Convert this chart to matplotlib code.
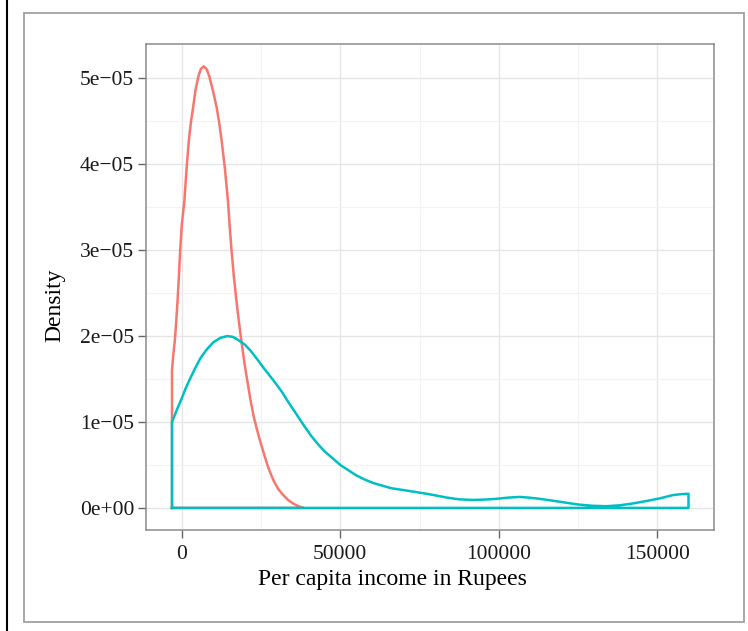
import numpy as np
import matplotlib.pyplot as plt
from matplotlib.lines import Line2D
from matplotlib.patches import Rectangle
from matplotlib.ticker import FuncFormatter, MultipleLocator

# density estimates per group (income in Rupees, density in units of 1e-5)
red_x = [-3100, -3100, -2700, -2200, -1800, -1350, -950, -530, 0, 800,
         1500, 2200, 2900, 3560, 4300, 5200, 6000, 6920, 7800, 8700,
         9800, 11000, 11800, 12580, 13600, 14560, 15100, 15700, 16400,
         17200, 18000, 18770, 19700, 20660, 21700, 22700, 23800, 24850,
         26000, 27000, 28000, 28950, 30400, 32000, 33600, 35200, 36800,
         38400, -3100]
red_y = [0, 1.6, 1.78, 1.95, 2.15, 2.41, 2.68, 2.99, 3.3, 3.57,
         3.95, 4.27, 4.5, 4.66, 4.86, 5.02, 5.11, 5.14, 5.11, 5.02,
         4.86, 4.66, 4.48, 4.27, 3.95, 3.57, 3.28, 2.99, 2.7,
         2.42, 2.17, 1.95, 1.7, 1.48, 1.25, 1.06, 0.9, 0.76,
         0.62, 0.5, 0.4, 0.32, 0.22, 0.15, 0.09, 0.05, 0.02,
         0, 0]

cyan_x = [-3100, -3100, -1700, -310, 1200, 2800, 4400, 5980, 8000, 10000,
          12200, 14370, 16200, 18000, 19900, 21700, 23800, 26000, 28800,
          31600, 33800, 36000, 38500, 41000, 43000, 45000, 47500, 50000,
          52500, 55000, 57700, 60400, 63200, 66000, 69500, 73000, 78000,
          83650, 87500, 91800, 95500, 99000, 103000, 106600, 109500,
          112000, 116000, 120500, 125000, 129500, 133900, 138000, 142000,
          146500, 150650, 155000, 157500, 159850, 159850, -3100]
cyan_y = [0, 1.0, 1.13, 1.25, 1.39, 1.52, 1.64, 1.75, 1.85, 1.93,
          1.98, 2.0, 1.99, 1.95, 1.9, 1.83, 1.73, 1.62, 1.49,
          1.35, 1.22, 1.1, 0.96, 0.83, 0.74, 0.66, 0.58, 0.5,
          0.44, 0.38, 0.33, 0.29, 0.26, 0.23, 0.21, 0.19, 0.16,
          0.12, 0.1, 0.093, 0.097, 0.105, 0.12, 0.128, 0.12,
          0.11, 0.09, 0.065, 0.04, 0.025, 0.02, 0.03, 0.05,
          0.08, 0.11, 0.15, 0.16, 0.165, 0, 0]

x_ticks = [0, 50000, 100000, 150000]
y_ticks = [0, 1e-5, 2e-5, 3e-5, 4e-5, 5e-5]

plt.rcParams['font.family'] = ['Liberation Serif', 'DejaVu Serif']

fig = plt.figure(figsize=(7.48, 6.31), dpi=100)
ax = fig.add_axes([146 / 748, 1 - 530 / 631, 568 / 748, 486 / 631])

ax.plot(red_x, np.array(red_y) * 1e-5, color='#F8766D', lw=1.8,
        solid_joinstyle='round', zorder=3)
ax.plot(cyan_x, np.array(cyan_y) * 1e-5, color='#00BFC4', lw=1.8,
        solid_joinstyle='round', zorder=4)

ax.set_xlim(-11300, 167900)
ax.set_ylim(-0.257e-5, 5.40e-5)

ax.set_xticks(x_ticks)
ax.set_yticks(y_ticks)
ax.xaxis.set_minor_locator(MultipleLocator(25000))
ax.yaxis.set_minor_locator(MultipleLocator(0.5e-5))


def sci(v, pos):
    m, e = ('%.0e' % v).split('e')
    sign = '+' if e[0] == '+' else '\u2212'
    return '%se%s%s' % (m, sign, e[1:])


ax.yaxis.set_major_formatter(FuncFormatter(sci))

ax.grid(which='major', color='#E6E6E6', lw=1.0)
ax.grid(which='minor', color='#F3F3F3', lw=0.8)
ax.set_axisbelow(True)

for s in ax.spines.values():
    s.set_color('#8C8C8C')
    s.set_linewidth(1.1)

ax.tick_params(which='major', length=5.5, width=1.0, color='#666666',
               labelsize=15.5, labelcolor='#1a1a1a', pad=3)
ax.tick_params(axis='x', which='major', pad=5)
ax.tick_params(which='minor', length=0)

fig.text(392 / 748, 1 - 579 / 631, 'Per capita income in Rupees',
         ha='center', va='center', fontsize=17)
fig.text(55 / 748, 1 - 305 / 631, 'Density', ha='center', va='center',
         rotation=90, fontsize=17)

# outer frame and left rule
fig.add_artist(Rectangle((24 / 748, 1 - 622 / 631), 720 / 748, 609 / 631,
                         transform=fig.transFigure, fill=False,
                         ec='#A0A0A0', lw=1.3))
fig.add_artist(Line2D([7 / 748, 7 / 748], [0, 1], transform=fig.transFigure,
                      color='black', lw=1.5))

fig.savefig('out.png', dpi=100)
